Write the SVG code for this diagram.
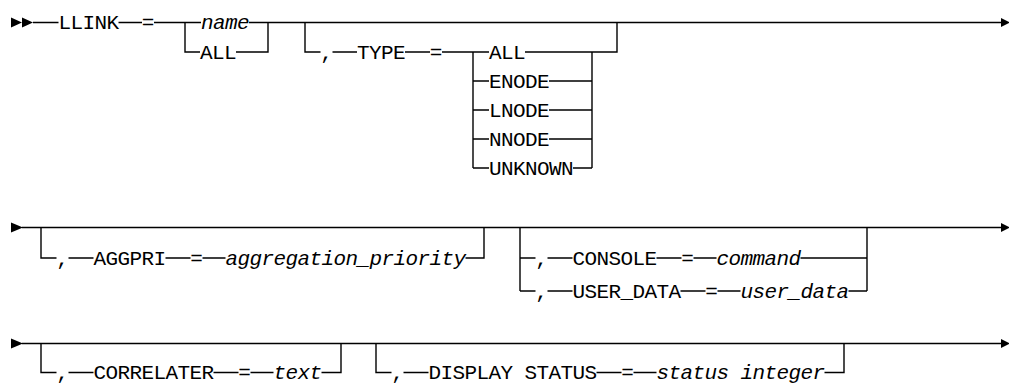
<svg xmlns="http://www.w3.org/2000/svg" width="1009" height="385" viewBox="0 0 1009 385">
<style>
text{font-family:"Liberation Mono","DejaVu Sans Mono",monospace;font-size:21px;letter-spacing:-0.6px;fill:#000}
.v{font-style:italic}
.m{text-anchor:middle;letter-spacing:0}
.ln{fill:none;stroke:#000;stroke-width:1.4}
.ah{fill:#000;stroke:none}
</style>
<rect width="1009" height="385" fill="#fff"/>
<g id="connectors">
<path class="ln" d="M33 22.5H58.5M118.5 22.5H142M154 22.5H185M185 22.5H201M249 22.5H268M185 22.5V52H200M236 52H268V22.5M268 22.5H1001M305 22.5V52H320.5M332.5 52H357M405 52H430M442 52H489M473 52V168M473 81H489M473 110H489M473 139H489M473 168H489M525 52H592M549 81H592M549 110H592M549 139H592M573 168H592M592 52V168M592 52H617V22.5"/>
<path class="ln" d="M22 227.5H1001M41 227.5V258H56.5M68.5 258H93.5M165.5 258H190.5M202.5 258H225.5M465.5 258H484V227.5M520 227.5V291M520 258H535.5M547.5 258H572.5M656.5 258H681.5M693.5 258H716.5M800.5 258H867M520 291H535.5M547.5 291H572.5M680.5 291H705.5M717.5 291H740.5M848.5 291H867M867 227.5V291"/>
<path class="ln" d="M22 343.5H1001M41 343.5V372.5H56.5M68.5 372.5H93.5M213.5 372.5H238.5M250.5 372.5H273.5M321.5 372.5H341V343.5M376 343.5V372.5H391.5M403.5 372.5H428.5M596.5 372.5H621.5M633.5 372.5H656.5M824.5 372.5H844V343.5"/>
<polygon class="ah" points="11,17.5 11,27.5 22,22.5"/>
<polygon class="ah" points="22,17.5 22,27.5 33,22.5"/>
<polygon class="ah" points="1001,18 1001,27 1010,22.5"/>
<polygon class="ah" points="11,222.5 11,232.5 23,227.5"/>
<polygon class="ah" points="1001,223 1001,232 1010,227.5"/>
<polygon class="ah" points="11,338.5 11,348.5 23,343.5"/>
<polygon class="ah" points="1001,339 1001,348 1010,343.5"/>
</g>
<g id="n-llink"><text x="58.5" y="29">LLINK</text></g>
<g id="n-eq1"><text class="m" x="148" y="29">=</text></g>
<g id="n-name"><text class="v" x="201" y="29">name</text></g>
<g id="n-all1"><text x="200" y="58.5">ALL</text></g>
<g id="n-comma-type"><text class="m" x="326.5" y="58.5">,</text></g>
<g id="n-type"><text x="357" y="58.5">TYPE</text></g>
<g id="n-eq-type"><text class="m" x="436" y="58.5">=</text></g>
<g id="n-all2"><text x="489" y="58.5">ALL</text></g>
<g id="n-enode"><text x="489" y="87.5">ENODE</text></g>
<g id="n-lnode"><text x="489" y="116.5">LNODE</text></g>
<g id="n-nnode"><text x="489" y="145.5">NNODE</text></g>
<g id="n-unknown"><text x="489" y="174.5">UNKNOWN</text></g>
<g id="n-comma-aggpri"><text class="m" x="62.5" y="264.5">,</text></g>
<g id="n-aggpri"><text x="93.5" y="264.5">AGGPRI</text></g>
<g id="n-eq-aggpri"><text class="m" x="196.5" y="264.5">=</text></g>
<g id="n-aggprio"><text class="v" x="225.5" y="264.5">aggregation_priority</text></g>
<g id="n-comma-console"><text class="m" x="541.5" y="264.5">,</text></g>
<g id="n-console"><text x="572.5" y="264.5">CONSOLE</text></g>
<g id="n-eq-console"><text class="m" x="687.5" y="264.5">=</text></g>
<g id="n-command"><text class="v" x="716.5" y="264.5">command</text></g>
<g id="n-comma-userdata"><text class="m" x="541.5" y="297.5">,</text></g>
<g id="n-userdata"><text x="572.5" y="297.5">USER_DATA</text></g>
<g id="n-eq-userdata"><text class="m" x="711.5" y="297.5">=</text></g>
<g id="n-userdata-v"><text class="v" x="740.5" y="297.5">user_data</text></g>
<g id="n-comma-corr"><text class="m" x="62.5" y="379">,</text></g>
<g id="n-correlater"><text x="93.5" y="379">CORRELATER</text></g>
<g id="n-eq-corr"><text class="m" x="244.5" y="379">=</text></g>
<g id="n-text"><text class="v" x="273.5" y="379">text</text></g>
<g id="n-comma-disp"><text class="m" x="397.5" y="379">,</text></g>
<g id="n-display"><text x="428.5" y="379">DISPLAY STATUS</text></g>
<g id="n-eq-disp"><text class="m" x="627.5" y="379">=</text></g>
<g id="n-status"><text class="v" x="656.5" y="379">status integer</text></g>
</svg>
